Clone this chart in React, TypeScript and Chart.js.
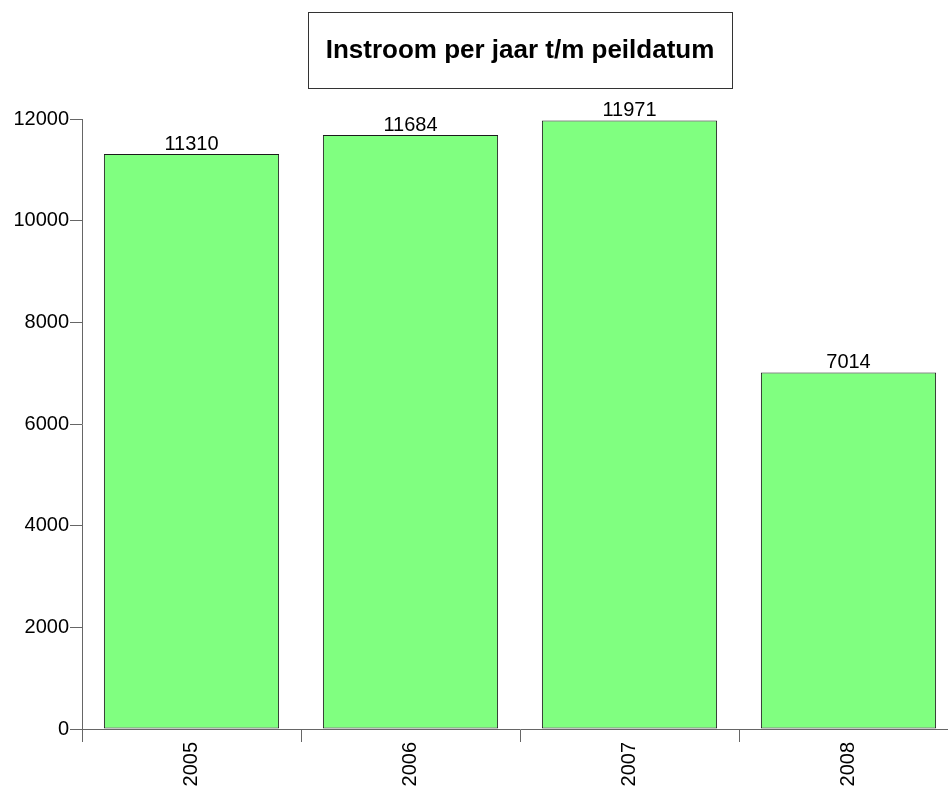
import React, { useEffect, useRef } from "react";
import { Chart, registerables } from "chart.js";

Chart.register(...registerables);

const categories = ["2005", "2006", "2007", "2008"];
const instroom = [11310, 11684, 11971, 7014];
const yTicks = [0, 2000, 4000, 6000, 8000, 10000, 12000];
const titleText = "Instroom per jaar t/m peildatum";

const FONT = "'Liberation Sans', Arial, sans-serif";

const boxTitlePlugin = {
  id: "boxTitle",
  afterDraw(chart: any) {
    const { ctx, chartArea } = chart;
    ctx.save();
    ctx.font = `bold 26px ${FONT}`;
    const w = ctx.measureText(titleText).width;
    const cx = (chartArea.left + chartArea.right) / 2;
    const boxW = w + 35;
    const top = 12;
    const h = 76;
    ctx.fillStyle = "#ffffff";
    ctx.fillRect(cx - boxW / 2, top, boxW, h);
    ctx.strokeStyle = "#333333";
    ctx.lineWidth = 1;
    ctx.strokeRect(Math.round(cx - boxW / 2) + 0.5, top + 0.5, Math.round(boxW), h);
    ctx.fillStyle = "#000000";
    ctx.textAlign = "center";
    ctx.textBaseline = "middle";
    ctx.fillText(titleText, cx, top + h / 2 + 1);
    ctx.restore();
  },
};

const valueLabelPlugin = {
  id: "valueLabels",
  afterDatasetsDraw(chart: any) {
    const { ctx } = chart;
    const meta = chart.getDatasetMeta(0);
    ctx.save();
    ctx.font = `20px ${FONT}`;
    ctx.fillStyle = "#000000";
    ctx.textAlign = "center";
    ctx.textBaseline = "alphabetic";
    meta.data.forEach((bar: any, i: number) => {
      ctx.fillText(String(chart.data.datasets[0].data[i]), bar.x, bar.y - 4);
    });
    ctx.restore();
  },
};

export default function App() {
  const ref = useRef<HTMLCanvasElement>(null);
  useEffect(() => {
    if (!ref.current) return;
    const chart = new Chart(ref.current, {
      type: "bar",
      data: {
        labels: categories,
        datasets: [
          {
            data: instroom,
            backgroundColor: "#80ff80",
            borderColor: "#1a1a1a",
            borderWidth: 1,
            borderSkipped: false,
            barPercentage: 0.8,
            categoryPercentage: 1,
          },
        ],
      },
      options: {
        animation: false,
        responsive: true,
        maintainAspectRatio: false,
        layout: { padding: { top: 119, left: 0, right: 2, bottom: 0 } },
        plugins: {
          legend: { display: false },
          title: { display: false },
          tooltip: { enabled: false },
        },
        scales: {
          x: {
            grid: {
              offset: true,
              drawOnChartArea: false,
              drawTicks: true,
              tickLength: 13,
              color: "#666666",
              lineWidth: 1,
            },
            border: { display: true, color: "#666666", width: 1 },
            ticks: {
              color: "#000000",
              font: { family: FONT, size: 20 },
              minRotation: 90,
              maxRotation: 90,
              padding: 0,
            },
            afterFit(scale: any) {
              scale.height = 60;
            },
          },
          y: {
            min: 0,
            max: 12000,
            afterBuildTicks(scale: any) {
              scale.ticks = yTicks.map((v) => ({ value: v }));
            },
            grid: {
              drawOnChartArea: false,
              drawTicks: true,
              tickLength: 12,
              color: "#666666",
            },
            border: { display: true, color: "#666666", width: 1 },
            ticks: {
              color: "#000000",
              font: { family: FONT, size: 20 },
              padding: 1,
              callback: (v: any) => String(v),
            },
            afterFit(scale: any) {
              scale.width = 82;
            },
          },
        },
      },
      plugins: [valueLabelPlugin, boxTitlePlugin],
    });
    return () => chart.destroy();
  }, []);

  return (
    <div
      style={{
        position: "fixed",
        left: 0,
        top: 0,
        width: 948,
        height: 789,
        overflow: "hidden",
        background: "#ffffff",
      }}
    >
      <div style={{ position: "relative", width: 960, height: 789 }}>
        <canvas ref={ref} />
      </div>
    </div>
  );
}
